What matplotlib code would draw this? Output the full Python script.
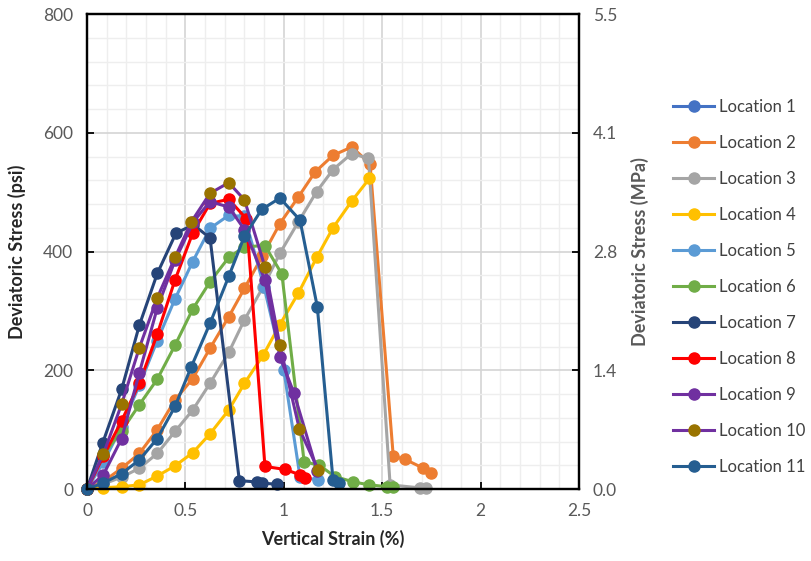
import numpy as np
import matplotlib
matplotlib.use("Agg")
from matplotlib import pyplot as plt
from matplotlib.ticker import MultipleLocator, FixedLocator, FormatStrFormatter

plt.rcParams['font.family'] = ['Lato', 'DejaVu Sans']

# strain (%) / deviatoric stress (psi)
loc1_x = [0.0]
loc1_y = [0.0]
loc2_x = [0.0, 0.08, 0.176, 0.266, 0.357, 0.447, 0.537, 0.625, 0.72, 0.80, 0.89, 0.98, 1.074, 1.159, 1.25, 1.345, 1.438, 1.556, 1.616, 1.709, 1.75]
loc2_y = [0, 12, 35, 60, 100, 150, 186, 237, 290, 338, 392, 447, 492, 534, 562, 576, 548, 55, 50, 35, 27]
loc3_x = [0.0, 0.08, 0.176, 0.266, 0.357, 0.447, 0.537, 0.625, 0.72, 0.80, 0.896, 0.98, 1.074, 1.167, 1.25, 1.345, 1.43, 1.54, 1.69, 1.72]
loc3_y = [0, 8, 20, 35, 60, 97, 133, 178, 230, 285, 341, 397, 450, 501, 538, 565, 557, 7, 2, 2]
loc4_x = [0.0, 0.083, 0.176, 0.266, 0.357, 0.447, 0.537, 0.625, 0.72, 0.80, 0.896, 0.98, 1.074, 1.167, 1.25, 1.345, 1.435]
loc4_y = [0, 2, 4, 7, 22, 39, 61, 93, 133, 178, 226, 277, 330, 390, 440, 485, 523]
loc5_x = [0.0, 0.083, 0.176, 0.266, 0.357, 0.447, 0.537, 0.625, 0.72, 0.80, 0.90, 1.0, 1.082, 1.175]
loc5_y = [0, 45, 105, 175, 250, 320, 383, 439, 461, 459, 340, 200, 21, 15]
loc6_x = [0.0, 0.083, 0.176, 0.266, 0.357, 0.447, 0.537, 0.625, 0.72, 0.80, 0.904, 0.99, 1.103, 1.18, 1.26, 1.353, 1.434, 1.523, 1.556]
loc6_y = [0, 58, 98, 142, 185, 242, 303, 349, 390, 408, 410, 362, 46, 40, 21, 12, 7, 4, 4]
loc7_x = [0.0, 0.08, 0.176, 0.266, 0.357, 0.452, 0.54, 0.625, 0.774, 0.862, 0.89, 0.964]
loc7_y = [0, 78, 168, 276, 363, 431, 445, 423, 14, 12, 10, 8]
loc8_x = [0.0, 0.083, 0.176, 0.266, 0.357, 0.447, 0.537, 0.625, 0.72, 0.81, 0.904, 1.006, 1.082, 1.108]
loc8_y = [0, 55, 115, 178, 261, 352, 431, 481, 488, 455, 38, 33, 24, 18]
loc9_x = [0.0, 0.083, 0.176, 0.266, 0.357, 0.447, 0.54, 0.625, 0.72, 0.80, 0.904, 0.98, 1.052, 1.17]
loc9_y = [0, 24, 85, 196, 305, 385, 450, 484, 475, 437, 352, 223, 161, 30]
loc10_x = [0.0, 0.083, 0.176, 0.266, 0.357, 0.447, 0.53, 0.625, 0.72, 0.80, 0.904, 0.98, 1.079, 1.175]
loc10_y = [0, 59, 143, 238, 322, 390, 450, 498, 516, 487, 374, 242, 101, 32]
loc11_x = [0.0, 0.083, 0.176, 0.266, 0.357, 0.447, 0.53, 0.625, 0.72, 0.80, 0.888, 0.98, 1.082, 1.17, 1.25, 1.28]
loc11_y = [0, 10, 26, 49, 85, 139, 206, 279, 358, 426, 471, 490, 453, 307, 15, 10]

names = ['Location %d' % i for i in range(1, 12)]
xs = [loc1_x, loc2_x, loc3_x, loc4_x, loc5_x, loc6_x, loc7_x, loc8_x, loc9_x, loc10_x, loc11_x]
ys = [loc1_y, loc2_y, loc3_y, loc4_y, loc5_y, loc6_y, loc7_y, loc8_y, loc9_y, loc10_y, loc11_y]
line_colors = ['#4472C4', '#ED7D31', '#A5A5A5', '#FFC000', '#5B9BD5', '#70AD47',
               '#264478', '#FF0000', '#7030A0', '#7030A0', '#255E91']
marker_colors = ['#4472C4', '#ED7D31', '#A5A5A5', '#FFC000', '#5B9BD5', '#70AD47',
                 '#264478', '#FF0000', '#7030A0', '#997300', '#255E91']

fig = plt.figure(figsize=(8.11, 5.61), dpi=100)
ax = fig.add_axes([0.1073, 0.1283, 0.6067, 0.8467])

for x, y, lc, mc, name in zip(xs, ys, line_colors, marker_colors, names):
    ax.plot(x, y, color=lc, lw=2.2, marker='o', markersize=8,
            markerfacecolor=mc, markeredgecolor=mc, label=name, clip_on=False)

ax.set_xlim(0, 2.5)
ax.set_ylim(0, 800)
ax.xaxis.set_major_locator(MultipleLocator(0.5))
ax.xaxis.set_minor_locator(MultipleLocator(0.1))
ax.yaxis.set_major_locator(MultipleLocator(200))
ax.yaxis.set_minor_locator(MultipleLocator(40))
ax.xaxis.set_major_formatter(plt.FuncFormatter(lambda v, p: ('%g' % v)))
ax.grid(which='major', color='#d4d4d4', lw=1.2)
ax.grid(which='minor', color='#eeeeee', lw=1.0)
ax.set_axisbelow(True)
ax.tick_params(which='major', direction='in', length=5, width=1.3, colors='black',
               labelcolor='#595959', labelsize=12.5, pad=10)
ax.tick_params(which='minor', length=0)
for s in ax.spines.values():
    s.set_linewidth(1.6)
    s.set_color('black')

ax.set_xlabel('Vertical Strain (%)', fontsize=13, fontweight='bold', color='#262626', labelpad=8)
ax.set_ylabel('Deviatoric Stress (psi)', fontsize=13, fontweight='bold', color='#262626', labelpad=12)

ax2 = ax.twinx()
ax2.set_ylim(0, 5.5)
ax2.yaxis.set_major_locator(FixedLocator(np.linspace(0, 5.5, 5)))
ax2.yaxis.set_major_formatter(FormatStrFormatter('%.1f'))
ax2.tick_params(direction='in', length=5, width=1.3, colors='black',
                labelcolor='#595959', labelsize=12.5, pad=10)
ax2.set_ylabel('Deviatoric Stress (MPa)', fontsize=13, fontweight='bold', color='#595959', labelpad=10)
for s in ax2.spines.values():
    s.set_linewidth(1.6)

leg = ax.legend(loc='upper left', bbox_to_anchor=(1.177, 0.836), frameon=False,
                fontsize=12, labelspacing=1.2, handlelength=2.5, handletextpad=0.3,
                borderaxespad=0)
for t in leg.get_texts():
    t.set_color('#404040')

fig.savefig('out.png', dpi=100)
